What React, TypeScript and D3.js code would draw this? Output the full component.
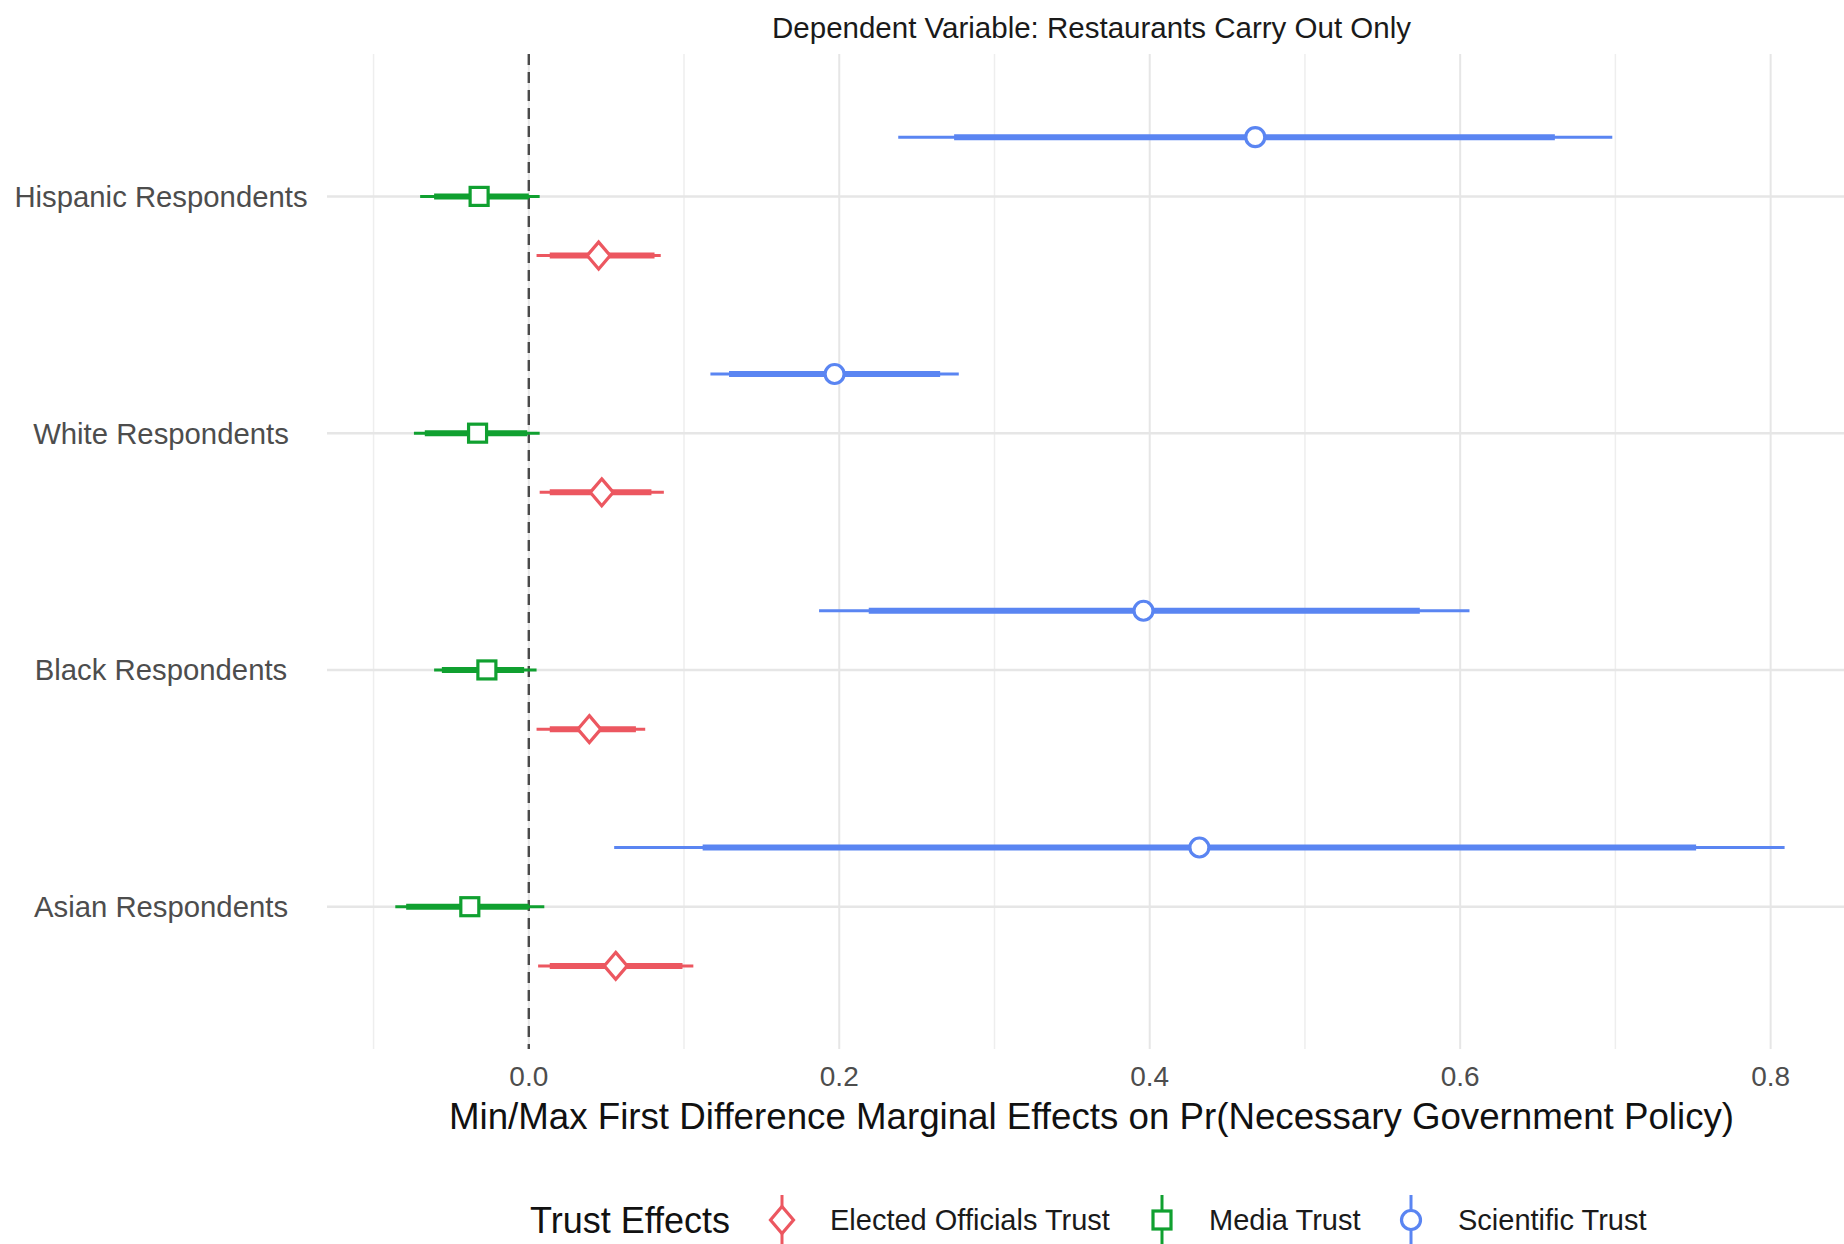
import React from "react";
import * as d3 from "d3";

const groups = ["Hispanic Respondents", "White Respondents", "Black Respondents", "Asian Respondents"];
const seriesNames = ["Scientific Trust", "Media Trust", "Elected Officials Trust"];
const legendOrder = ["Elected Officials Trust", "Media Trust", "Scientific Trust"];
const xTicks = [0, 0.2, 0.4, 0.6, 0.8];
const xMinor = [-0.1, 0.1, 0.3, 0.5, 0.7];

// estimates per group (Hispanic, White, Black, Asian)
const scientificEst = [0.468, 0.197, 0.396, 0.432];
const scientificLo95 = [0.238, 0.117, 0.187, 0.055];
const scientificHi95 = [0.698, 0.277, 0.606, 0.809];
const scientificLo90 = [0.274, 0.129, 0.219, 0.112];
const scientificHi90 = [0.661, 0.265, 0.574, 0.752];

const mediaEst = [-0.032, -0.033, -0.027, -0.038];
const mediaLo95 = [-0.070, -0.074, -0.061, -0.086];
const mediaHi95 = [0.007, 0.007, 0.005, 0.010];
const mediaLo90 = [-0.061, -0.067, -0.056, -0.079];
const mediaHi90 = [0.000, -0.001, -0.003, 0.000];

const electedEst = [0.045, 0.047, 0.039, 0.056];
const electedLo95 = [0.005, 0.007, 0.005, 0.006];
const electedHi95 = [0.085, 0.087, 0.075, 0.106];
const electedLo90 = [0.0135, 0.0135, 0.0135, 0.0135];
const electedHi90 = [0.081, 0.079, 0.069, 0.099];

const colors: Record<string, string> = {
  "Elected Officials Trust": "#EC5760",
  "Media Trust": "#10A030",
  "Scientific Trust": "#5A85F2",
};
const shapes: Record<string, string> = {
  "Elected Officials Trust": "diamond",
  "Media Trust": "square",
  "Scientific Trust": "circle",
};

const seriesData: Record<string, { est: number[]; lo95: number[]; hi95: number[]; lo90: number[]; hi90: number[] }> = {
  "Scientific Trust": { est: scientificEst, lo95: scientificLo95, hi95: scientificHi95, lo90: scientificLo90, hi90: scientificHi90 },
  "Media Trust": { est: mediaEst, lo95: mediaLo95, hi95: mediaHi95, lo90: mediaLo90, hi90: mediaHi90 },
  "Elected Officials Trust": { est: electedEst, lo95: electedLo95, hi95: electedHi95, lo90: electedLo90, hi90: electedHi90 },
};

const W = 1844;
const H = 1244;
const panelLeft = 327;
const panelRight = 1856;
const panelTop = 54;
const panelBottom = 1049;
const FONT = "'Liberation Sans', Arial, Helvetica, sans-serif";

function Marker({ shape, cx, cy, color }: { shape: string; cx: number; cy: number; color: string }) {
  if (shape === "circle") {
    return <circle cx={cx} cy={cy} r={9.5} fill="white" stroke={color} strokeWidth={3.2} />;
  }
  if (shape === "square") {
    return <rect x={cx - 9} y={cy - 9} width={18} height={18} fill="white" stroke={color} strokeWidth={3.2} />;
  }
  const dx = 11.5, dy = 13.5;
  const p = `M${cx},${cy - dy}L${cx + dx},${cy}L${cx},${cy + dy}L${cx - dx},${cy}Z`;
  return <path d={p} fill="white" stroke={color} strokeWidth={3.2} />;
}

export default function App() {
  const x = d3.scaleLinear().domain([-0.13, 0.855]).range([panelLeft, panelRight]);
  const y = d3.scalePoint<string>().domain(groups).range([196.4, 906.7]);
  const step = y.step();
  const dodge = d3.scalePoint<string>().domain(seriesNames).range([-0.25 * step, 0.25 * step]);

  const legendItems = [
    { name: legendOrder[0], keyX: 782, textX: 830 },
    { name: legendOrder[1], keyX: 1162, textX: 1209 },
    { name: legendOrder[2], keyX: 1411, textX: 1458 },
  ];
  const legendY = 1220;

  return (
    <svg width={W} height={H} style={{ position: "absolute", left: 0, top: 0, background: "white" }} fontFamily={FONT}>
      <rect x={0} y={0} width={W} height={H} fill="white" />
      {xMinor.map((t) => (
        <line key={"mn" + t} x1={x(t)} x2={x(t)} y1={panelTop} y2={panelBottom} stroke="#EEEEEE" strokeWidth={1.5} />
      ))}
      {xTicks.map((t) => (
        <line key={"mj" + t} x1={x(t)} x2={x(t)} y1={panelTop} y2={panelBottom} stroke="#E6E6E6" strokeWidth={2} />
      ))}
      {groups.map((g) => (
        <line key={"hg" + g} x1={panelLeft} x2={W} y1={y(g)} y2={y(g)} stroke="#E6E6E6" strokeWidth={2.5} />
      ))}
      <line x1={x(0)} x2={x(0)} y1={panelTop} y2={panelBottom} stroke="#4a4a4a" strokeWidth={2.4} strokeDasharray="11,7" />

      {seriesNames.map((s) => {
        const d = seriesData[s];
        const c = colors[s];
        return groups.map((g, i) => {
          const cy = (y(g) as number) + (dodge(s) as number);
          return (
            <g key={s + g}>
              <line x1={x(d.lo95[i])} x2={x(d.hi95[i])} y1={cy} y2={cy} stroke={c} strokeWidth={3} />
              <line x1={x(d.lo90[i])} x2={x(d.hi90[i])} y1={cy} y2={cy} stroke={c} strokeWidth={6} />
              <Marker shape={shapes[s]} cx={x(d.est[i])} cy={cy} color={c} />
            </g>
          );
        });
      })}

      <text x={(panelLeft + panelRight) / 2} y={27} fontSize={29.5} textAnchor="middle" dominantBaseline="central" fill="#1a1a1a">
        Dependent Variable: Restaurants Carry Out Only
      </text>

      {groups.map((g) => (
        <text key={"yl" + g} x={161} y={y(g)} fontSize={29.3} textAnchor="middle" dominantBaseline="central" fill="#4D4D4D">
          {g}
        </text>
      ))}

      {xTicks.map((t) => (
        <text key={"xl" + t} x={x(t)} y={1076} fontSize={28} textAnchor="middle" dominantBaseline="central" fill="#4D4D4D">
          {d3.format(".1f")(t)}
        </text>
      ))}

      <text x={(panelLeft + panelRight) / 2} y={1116} fontSize={36.7} textAnchor="middle" dominantBaseline="central" fill="#111">
        Min/Max First Difference Marginal Effects on Pr(Necessary Government Policy)
      </text>

      <text x={530} y={legendY} fontSize={36} dominantBaseline="central" fill="#111">
        Trust Effects
      </text>
      {legendItems.map((it) => (
        <g key={"lg" + it.name}>
          <line x1={it.keyX} x2={it.keyX} y1={legendY - 25} y2={legendY + 25} stroke={colors[it.name]} strokeWidth={3} />
          <Marker shape={shapes[it.name]} cx={it.keyX} cy={legendY} color={colors[it.name]} />
          <text x={it.textX} y={legendY} fontSize={29} dominantBaseline="central" fill="#1a1a1a">
            {it.name}
          </text>
        </g>
      ))}
    </svg>
  );
}
